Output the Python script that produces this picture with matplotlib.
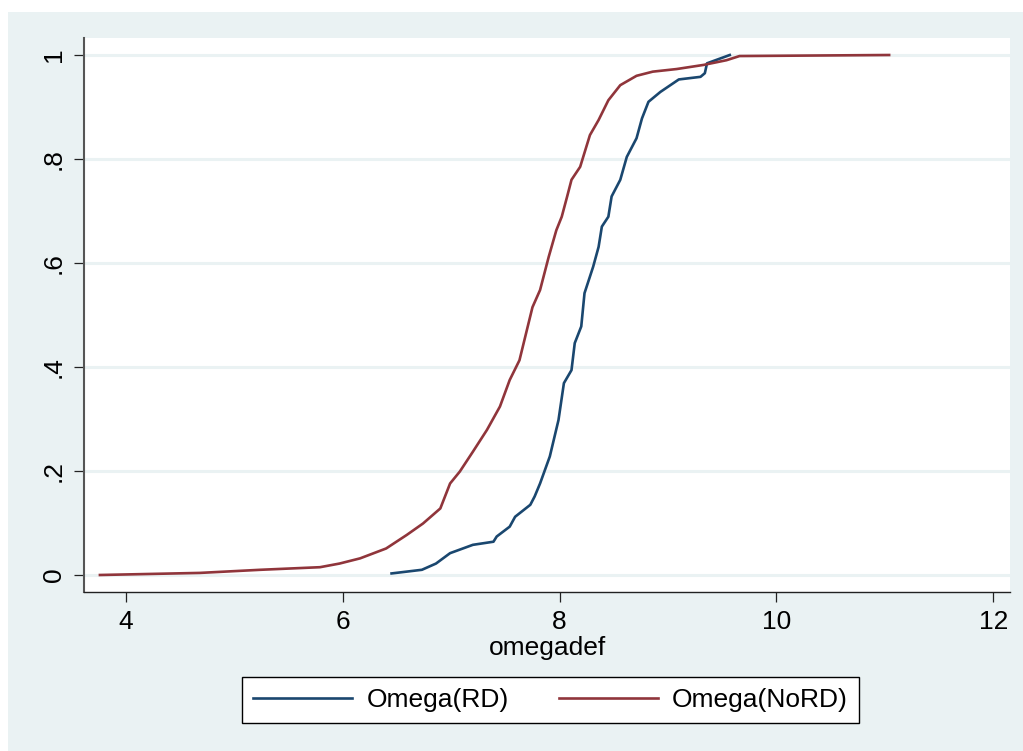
import matplotlib
matplotlib.use("Agg")
import matplotlib.pyplot as plt
from matplotlib.patches import Rectangle

plt.rcParams['font.family'] = ['Liberation Sans', 'DejaVu Sans']

# cumulative distribution of omegadef, read at key points
rd_x = [6.45, 6.73, 6.86, 6.99, 7.20, 7.39, 7.42, 7.54, 7.59, 7.73, 7.77, 7.82,
        7.91, 7.99, 8.04, 8.11, 8.14, 8.20, 8.23, 8.31, 8.36, 8.39, 8.45, 8.48,
        8.56, 8.62, 8.71, 8.76, 8.82, 8.93, 9.10, 9.30, 9.34, 9.36, 9.57]
rd_y = [0.003, 0.010, 0.022, 0.042, 0.058, 0.064, 0.074, 0.093, 0.112, 0.135, 0.151, 0.176,
        0.228, 0.298, 0.369, 0.394, 0.446, 0.478, 0.542, 0.593, 0.631, 0.670, 0.689, 0.728,
        0.760, 0.804, 0.840, 0.878, 0.910, 0.929, 0.953, 0.958, 0.965, 0.984, 1.000]

nord_x = [3.76, 4.68, 5.24, 5.79, 5.97, 6.16, 6.40, 6.59, 6.74, 6.90, 6.99, 7.08,
          7.20, 7.33, 7.45, 7.54, 7.63, 7.75, 7.82, 7.90, 7.97, 8.02, 8.07, 8.11,
          8.19, 8.28, 8.36, 8.45, 8.56, 8.71, 8.86, 9.08, 9.33, 9.54, 9.66, 11.04]
nord_y = [0.000, 0.004, 0.010, 0.015, 0.022, 0.032, 0.051, 0.077, 0.099, 0.128, 0.176, 0.199,
          0.237, 0.279, 0.324, 0.375, 0.413, 0.515, 0.548, 0.612, 0.663, 0.689, 0.728, 0.760,
          0.785, 0.846, 0.875, 0.913, 0.942, 0.960, 0.968, 0.973, 0.981, 0.990, 0.998, 1.000]

x_ticks = [4, 6, 8, 10, 12]
y_ticks = [0, 0.2, 0.4, 0.6, 0.8, 1]
y_tick_labels = ['0', '.2', '.4', '.6', '.8', '1']

navy = '#1A476F'
maroon = '#90353B'
panel = '#EAF2F3'

W, H = 1023, 751
fig = plt.figure(figsize=(W / 100, H / 100), dpi=100)
fig.patch.set_facecolor('white')
fig.patches.append(Rectangle((8 / W, 0), 1, 1 - 12 / H, transform=fig.transFigure,
                             facecolor=panel, edgecolor='none', zorder=-5))

ax = fig.add_axes([84 / W, 1 - 592 / H, (1010 - 84) / W, (592 - 38) / H])
ax.set_facecolor('white')

ax.plot(rd_x, rd_y, color=navy, lw=1.9, label='Omega(RD)')
ax.plot(nord_x, nord_y, color=maroon, lw=1.9, label='Omega(NoRD)')

ax.set_xlim(3.613, 12.155)
ax.set_ylim(-0.0327, 1.0327)
ax.set_xticks(x_ticks)
ax.set_yticks(y_ticks)
ax.set_yticklabels(y_tick_labels, rotation=90, va='center')
ax.grid(axis='y', color=panel, lw=2.2)
ax.set_axisbelow(True)
for s in ['top', 'right']:
    ax.spines[s].set_visible(False)
ax.spines['left'].set_color('#555555')
ax.spines['left'].set_linewidth(1.5)
ax.spines['bottom'].set_color('#222222')
ax.spines['bottom'].set_linewidth(1.0)
ax.tick_params(labelsize=19, length=7.2, width=0.9, color='#222222', pad=6)
ax.set_xlabel('omegadef', fontsize=19, labelpad=1)

fig.legend(loc='center', bbox_to_anchor=(550.5 / W, 1 - 700 / H), ncol=2,
           fontsize=19, frameon=True, fancybox=False, edgecolor='black',
           framealpha=1, handlelength=3.75, handletextpad=0.53,
           columnspacing=1.9, borderpad=0.42)

fig.savefig('out.png', dpi=100, facecolor=fig.get_facecolor())
